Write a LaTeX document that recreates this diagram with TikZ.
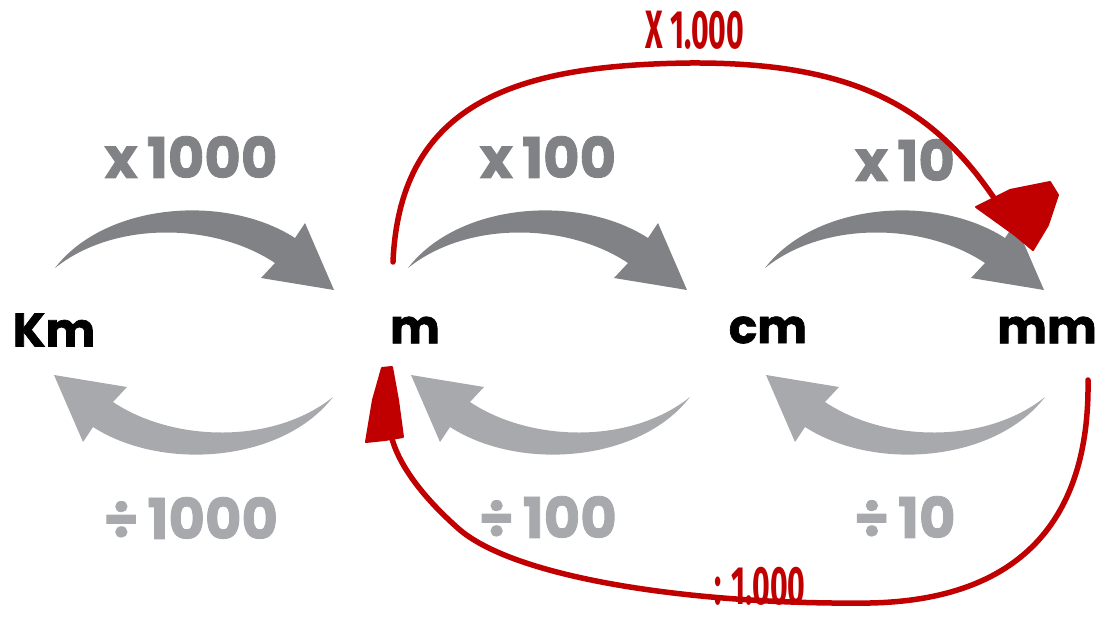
\documentclass[tikz,border=0pt]{standalone}
\usepackage{fontspec}
\setmainfont{Poppins}[BoldFeatures={FakeBold=1.5}]
\newfontfamily\cond[FakeStretch=0.56]{Fira Sans}
\definecolor{gtop}{HTML}{808285}
\definecolor{gbot}{HTML}{A7A9AC}
\definecolor{redm}{HTML}{C00000}
\begin{document}
\begin{tikzpicture}[x=1pt,y=-1pt,
 unit/.style={font=\bfseries\fontsize{47}{47}\selectfont, text=black, inner sep=0},
 optop/.style={font=\bfseries\fontsize{56}{56}\selectfont, text=gtop, inner sep=0},
 opbot/.style={font=\bfseries\fontsize{56}{56}\selectfont, text=gbot, inner sep=0},
 redlab/.style={font=\cond\bfseries\fontsize{54}{54}\selectfont, text=redm, inner sep=0},
 redline/.style={draw=redm, line width=5.5pt, line cap=round},
 redhead/.style={fill=redm, draw=redm, line width=2pt, line join=round},
 garrow/.pic={\fill[pic actions] (0,0) .. controls (50,-65) and (170,-75) .. (240,-30) -- (250,-45) -- (279,22) -- (206,10) -- (220,-5) .. controls (160,-45) and (60,-48) .. (0,0) -- cycle;}
]
\useasboundingbox (0,0) rectangle (1098,618);
% gray arrows
\pic[fill=gtop] at (55,268) {garrow};
\pic[fill=gtop] at (408,268) {garrow};
\pic[fill=gtop] at (765,268) {garrow};
\pic[fill=gbot, rotate=180] at (333,397) {garrow};
\pic[fill=gbot, rotate=180] at (690,397) {garrow};
\pic[fill=gbot, rotate=180] at (1045,397) {garrow};
% units
\node[unit] (km) at (54,330) {Km};
\node[unit] (m) at (415,330) {m};
\node[unit] (cm) at (768,330) {cm};
\node[unit] (mm) at (1047,330) {mm};
% operation labels
\node[optop] (t1) at (191,157) {x\,1000};
\node[optop] (t2) at (548,157) {x\,100};
\node[optop] (t3) at (905,160) {x\,10};
\node[opbot] (b1) at (191,518) {÷\,1000};
\node[opbot] (b2) at (548,517) {÷\,100};
\node[opbot] (b3) at (905,517) {÷\,10};
% red arcs
\coordinate (rs1) at (393,262);
\coordinate (rtop) at (690,63);
\coordinate (re1) at (1005,215);
\draw[redline] (rs1) .. controls (400,100) and (520,65) .. (rtop) .. controls (860,62) and (940,110) .. (re1);
\fill[redhead] (976,207) -- (1010,190) -- (1050,182) -- (1058,195) -- (1048,225) -- (1033,250) -- (1015,235) -- cycle;
\coordinate (rs2) at (1088,380);
\coordinate (rbot) at (870,603);
\coordinate (re2) at (390,430);
\draw[redline] (rs2) .. controls (1090,520) and (1020,600) .. (rbot) .. controls (700,605) and (520,580) .. (460,530) .. controls (420,495) and (395,460) .. (re2);
\fill[redhead] (382,368) -- (392,367) -- (398,400) -- (403,437) -- (385,440) -- (366,442) -- (373,400) -- cycle;
\node[redlab] (rl1) at (695,30) {X 1.000};
\node[redlab] (rl2) at (760,586) {: 1.000};
\end{tikzpicture}
\end{document}
